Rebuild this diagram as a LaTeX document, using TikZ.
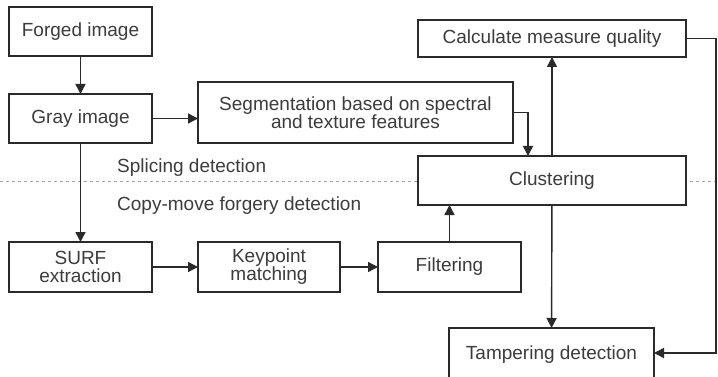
\documentclass[tikz,border=0pt]{standalone}
\usepackage{fontspec}
\setmainfont{Liberation Sans}
\usetikzlibrary{arrows.meta}
\definecolor{ink}{HTML}{2A2A2A}
\definecolor{txt}{HTML}{3C3C3C}
\begin{document}
\begin{tikzpicture}[x=1pt,y=-1pt,
  box/.style={draw=ink, line width=1.4pt, fill=white, inner sep=0pt, outer sep=0pt,
    align=center, text=txt, font=\fontsize{19}{18}\selectfont},
  flow/.style={draw=ink, line width=1.4pt, -{Triangle[length=10pt,width=10pt]}},
  lbl/.style={text=txt, font=\fontsize{19}{18}\selectfont, inner sep=0pt, anchor=west}]
\useasboundingbox (0,0) rectangle (718,377);

% separator between the two detection branches
\draw[gray!70, line width=0.8pt, dash pattern=on 3pt off 3pt] (0,181) -- (718,181);
\node[lbl] (splice) at (117,168) {Splicing detection};
\node[lbl] (copymove) at (117,206) {Copy-move forgery detection};

% processing steps
\node[box, minimum width=143pt, minimum height=49pt] (forged) at (80.5,31.5) {Forged image};
\node[box, minimum width=143pt, minimum height=49pt] (gray) at (80.5,118.5) {Gray image};
\node[box, minimum width=315pt, minimum height=61pt] (seg) at (355.5,112.5) {Segmentation based on spectral\\and texture features};
\node[box, minimum width=268pt, minimum height=37pt] (calc) at (552,38.5) {Calculate measure quality};
\node[box, minimum width=268pt, minimum height=49pt] (clust) at (552,180.5) {Clustering};
\node[box, minimum width=143pt, minimum height=50pt] (surf) at (80.5,267) {SURF\\extraction};
\node[box, minimum width=142pt, minimum height=50pt] (key) at (269,267) {Keypoint\\matching};
\node[box, minimum width=143pt, minimum height=50pt] (filt) at (449.5,267) {Filtering};
\node[box, minimum width=205pt, minimum height=54pt] (tamp) at (551.5,355) {Tampering detection};

% connectors
\draw[flow] (forged) -- (gray);
\draw[flow] (gray) -- (seg.west |- gray);
\draw[flow] (gray) -- (surf);
\draw[flow] (surf) -- (key);
\draw[flow] (key) -- (filt);
\draw[flow] (filt) -- (clust.south -| filt);
\draw[flow] (seg.east) -- (528,112.5) -- (528,156);
\draw[flow] (clust) -- (calc);
\draw[flow] (clust) -- (tamp);
\draw[flow] (calc.east) -- (716,38.5) -- (716,353) -- (tamp.east |- 0,353);
\end{tikzpicture}
\end{document}
